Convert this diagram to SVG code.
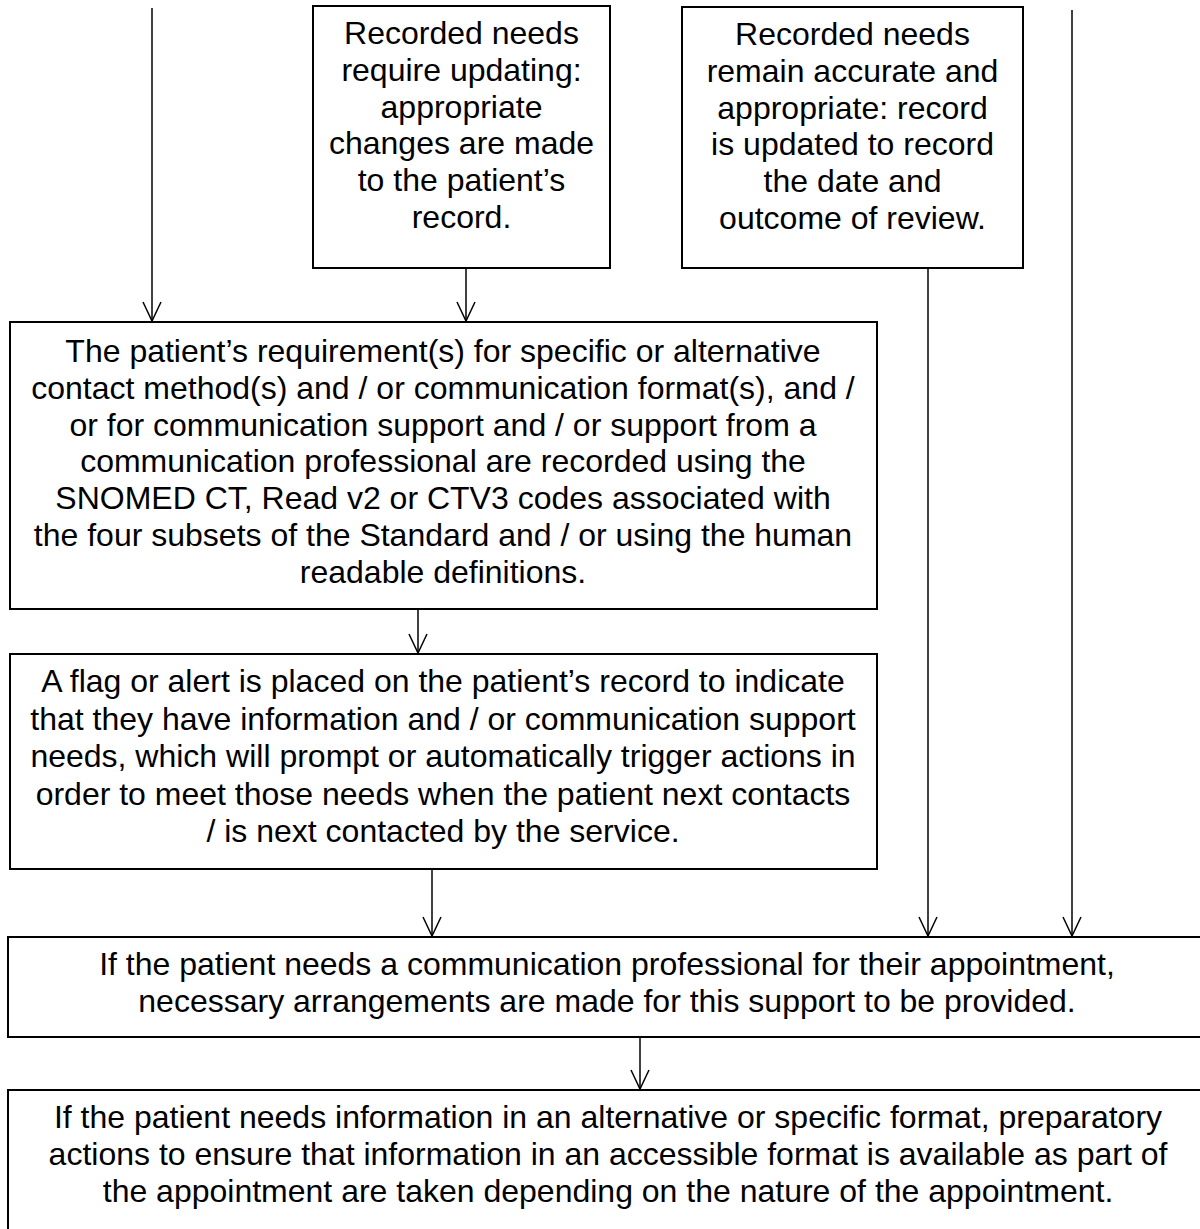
<svg xmlns="http://www.w3.org/2000/svg" width="1200" height="1229" viewBox="0 0 1200 1229">
<defs>
<style>
.box{fill:#fff;stroke:#000;stroke-width:2}
.t{font-family:"Liberation Sans",Arial,sans-serif;font-size:32px;fill:#000;text-anchor:middle}
.c{fill:none;stroke:#000;stroke-width:1.5}
</style>
<marker id="ah" markerUnits="userSpaceOnUse" markerWidth="20" markerHeight="18" refX="19" refY="9" orient="auto" viewBox="0 0 20 18" overflow="visible">
<path d="M0,0 L19,9 L0,18" fill="none" stroke="#000" stroke-width="1.5"/>
</marker>
</defs>
<rect width="1200" height="1229" fill="#fff"/>
<g id="connectors">
<line class="c" x1="152" y1="8" x2="152" y2="321" marker-end="url(#ah)"/>
<line class="c" x1="466" y1="268" x2="466" y2="321" marker-end="url(#ah)"/>
<line class="c" x1="418" y1="609" x2="418" y2="653" marker-end="url(#ah)"/>
<line class="c" x1="432" y1="869" x2="432" y2="936" marker-end="url(#ah)"/>
<line class="c" x1="928" y1="268" x2="928" y2="936" marker-end="url(#ah)"/>
<line class="c" x1="1072" y1="10" x2="1072" y2="936" marker-end="url(#ah)"/>
<line class="c" x1="640" y1="1037" x2="640" y2="1089" marker-end="url(#ah)"/>
</g>
<g id="n1">
<rect class="box" x="313" y="6" width="297" height="262"/>
<text class="t"><tspan x="461.5" y="44">Recorded needs</tspan><tspan x="461.5" y="80.8">require updating:</tspan><tspan x="461.5" y="117.6">appropriate</tspan><tspan x="461.5" y="154.4">changes are made</tspan><tspan x="461.5" y="191.2">to the patient’s</tspan><tspan x="461.5" y="228">record.</tspan></text>
</g>
<g id="n2">
<rect class="box" x="682" y="7" width="341" height="261"/>
<text class="t"><tspan x="852.5" y="45">Recorded needs</tspan><tspan x="852.5" y="81.8">remain accurate and</tspan><tspan x="852.5" y="118.6">appropriate: record</tspan><tspan x="852.5" y="155.4">is updated to record</tspan><tspan x="852.5" y="192.2">the date and</tspan><tspan x="852.5" y="229">outcome of review.</tspan></text>
</g>
<g id="n3">
<rect class="box" x="10" y="322" width="867" height="287"/>
<text class="t"><tspan x="443" y="362">The patient’s requirement(s) for specific or alternative</tspan><tspan x="443" y="398.8">contact method(s) and / or communication format(s), and /</tspan><tspan x="443" y="435.6">or for communication support and / or support from a</tspan><tspan x="443" y="472.4">communication professional are recorded using the</tspan><tspan x="443" y="509.2">SNOMED CT, Read v2 or CTV3 codes associated with</tspan><tspan x="443" y="546">the four subsets of the Standard and / or using the human</tspan><tspan x="443" y="582.8">readable definitions.</tspan></text>
</g>
<g id="n4">
<rect class="box" x="10" y="654" width="867" height="215"/>
<text class="t"><tspan x="443" y="692">A flag or alert is placed on the patient’s record to indicate</tspan><tspan x="443" y="729.5">that they have information and / or communication support</tspan><tspan x="443" y="767">needs, which will prompt or automatically trigger actions in</tspan><tspan x="443" y="804.5">order to meet those needs when the patient next contacts</tspan><tspan x="443" y="842">/ is next contacted by the service.</tspan></text>
</g>
<g id="n5">
<rect class="box" x="8" y="937" width="1210" height="100"/>
<text class="t"><tspan x="607" y="975">If the patient needs a communication professional for their appointment,</tspan><tspan x="607" y="1012">necessary arrangements are made for this support to be provided.</tspan></text>
</g>
<g id="n6">
<rect class="box" x="8" y="1090" width="1210" height="160"/>
<text class="t"><tspan x="608" y="1128">If the patient needs information in an alternative or specific format, preparatory</tspan><tspan x="608" y="1165">actions to ensure that information in an accessible format is available as part of</tspan><tspan x="608" y="1202">the appointment are taken depending on the nature of the appointment.</tspan></text>
</g>
</svg>
